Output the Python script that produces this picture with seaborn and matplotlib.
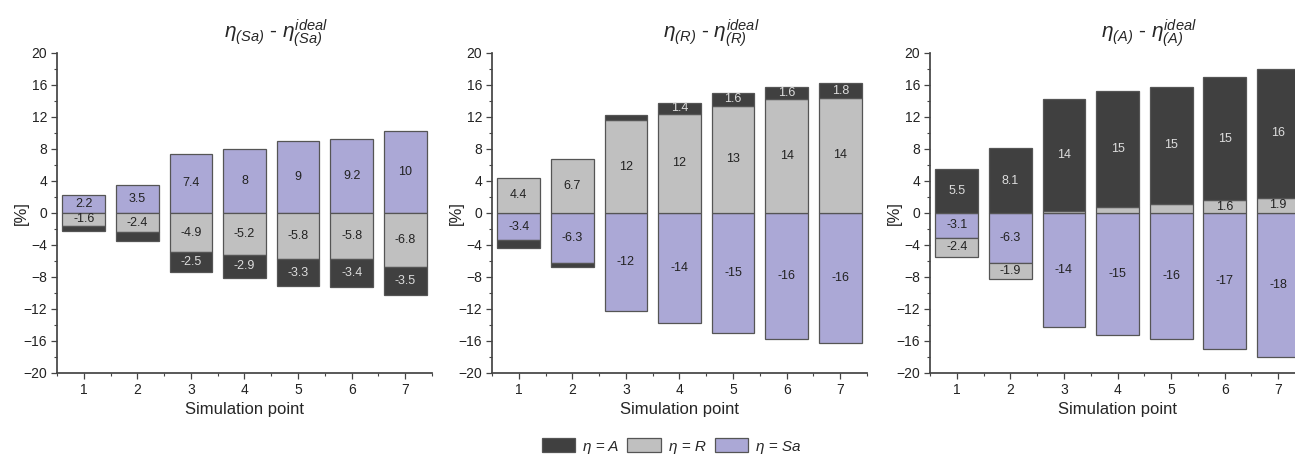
"""Stacked deviation bars for the three efficiency definitions."""
import matplotlib
matplotlib.use("Agg")
import matplotlib.pyplot as plt
import numpy as np
import pandas as pd
import seaborn as sns
from matplotlib.patches import Patch
from matplotlib.ticker import AutoMinorLocator, MultipleLocator

POINTS = [1, 2, 3, 4, 5, 6, 7]

# panel 1: eta_(Sa) - ideal
SA_SA = [2.2, 3.5, 7.4, 8.0, 9.0, 9.2, 10.3]
SA_R = [-1.6, -2.4, -4.9, -5.2, -5.8, -5.8, -6.8]
SA_A = [-0.6, -1.1, -2.5, -2.9, -3.3, -3.4, -3.5]

# panel 2: eta_(R) - ideal
R_SA = [-3.4, -6.3, -12.3, -13.8, -15.0, -15.8, -16.2]
R_R = [4.4, 6.7, 11.6, 12.4, 13.4, 14.2, 14.4]
R_A = [-1.0, -0.4, 0.7, 1.4, 1.6, 1.6, 1.8]

# panel 3: eta_(A) - ideal
A_SA = [-3.1, -6.3, -14.3, -15.3, -15.8, -17.0, -18.0]
A_R = [-2.4, -1.9, 0.3, 0.7, 1.1, 1.6, 1.9]
A_A = [5.5, 8.1, 14.0, 14.6, 14.7, 15.4, 16.1]

TITLES = [r"$\eta_{(Sa)}$ - $\eta^{ideal}_{(Sa)}$",
          r"$\eta_{(R)}$ - $\eta^{ideal}_{(R)}$",
          r"$\eta_{(A)}$ - $\eta^{ideal}_{(A)}$"]
SERIES = ["Sa", "R", "A"]
LEGEND_LABELS = {"A": "η = A", "R": "η = R", "Sa": "η = Sa"}
COLORS = {"Sa": "#aba8d6", "R": "#c0c0c0", "A": "#404040"}
TEXT_COLORS = {"Sa": "#222222", "R": "#222222", "A": "#dddddd"}
EDGE = "#555555"

sns.set_theme(style="ticks")
plt.rcParams["font.family"] = ["Liberation Sans", "DejaVu Sans"]
plt.rcParams["mathtext.fontset"] = "custom"
plt.rcParams["mathtext.it"] = "Liberation Sans:italic"
plt.rcParams["mathtext.rm"] = "Liberation Sans:italic"
plt.rcParams["axes.edgecolor"] = "#444444"
plt.rcParams["xtick.color"] = "#444444"
plt.rcParams["ytick.color"] = "#444444"
plt.rcParams["xtick.labelcolor"] = "#222222"
plt.rcParams["ytick.labelcolor"] = "#222222"

W, H = 1295, 455
fig = plt.figure(figsize=(W / 100, H / 100), dpi=100)
lefts = [57, 492, 930]
panels = [
    {"Sa": SA_SA, "R": SA_R, "A": SA_A},
    {"Sa": R_SA, "R": R_R, "A": R_A},
    {"Sa": A_SA, "R": A_R, "A": A_A},
]

for left, title, data in zip(lefts, TITLES, panels):
    ax = fig.add_axes([left / W, 1 - 373 / H, 375 / W, 320 / H])
    pos_base = np.zeros(len(POINTS))
    neg_base = np.zeros(len(POINTS))
    for name in SERIES:
        vals = np.array(data[name], dtype=float)
        bottom = np.where(vals >= 0, pos_base, neg_base)
        df = pd.DataFrame({"point": POINTS, "value": vals})
        sns.barplot(data=df, x="point", y="value", native_scale=True,
                    color=COLORS[name], saturation=1, width=0.8,
                    errorbar=None, bottom=bottom, edgecolor=EDGE,
                    linewidth=0.9, ax=ax)
        for p, v, b in zip(POINTS, vals, bottom):
            if abs(v) >= 1.3:
                ax.text(p, b + v / 2, f"{v:.2g}", ha="center", va="center",
                        fontsize=9, color=TEXT_COLORS[name])
        pos_base = pos_base + np.clip(vals, 0, None)
        neg_base = neg_base + np.clip(vals, None, 0)

    ax.set_xlim(0.5, 7.5)
    ax.set_ylim(-20, 20)
    ax.set_xticks(POINTS)
    ax.set_xticklabels([str(p) for p in POINTS])
    ax.xaxis.set_minor_locator(AutoMinorLocator(2))
    ax.yaxis.set_major_locator(MultipleLocator(4))
    ax.yaxis.set_minor_locator(AutoMinorLocator(2))
    ax.tick_params(which="major", length=4, width=0.9, labelsize=10, pad=3)
    ax.tick_params(which="minor", length=2.5, width=0.8)
    ax.set_xlabel("Simulation point", fontsize=12, labelpad=4)
    ax.set_ylabel("[%]", fontsize=12)
    ax.yaxis.set_label_coords(-0.075, 0.5)
    ax.set_title(title, fontsize=15, x=0.585, pad=11)
    sns.despine(ax=ax)

handles = [Patch(facecolor=COLORS[n], edgecolor=EDGE, linewidth=0.9) for n in ["A", "R", "Sa"]]
fig.legend(handles, [LEGEND_LABELS[n] for n in ["A", "R", "Sa"]],
           loc="center", bbox_to_anchor=(671 / W, 1 - 446 / H), ncol=3,
           frameon=False, handlelength=2.2, handleheight=1.0,
           columnspacing=0.6, handletextpad=0.5,
           prop={"style": "italic", "size": 11})

fig.savefig("out.png", dpi=100)
